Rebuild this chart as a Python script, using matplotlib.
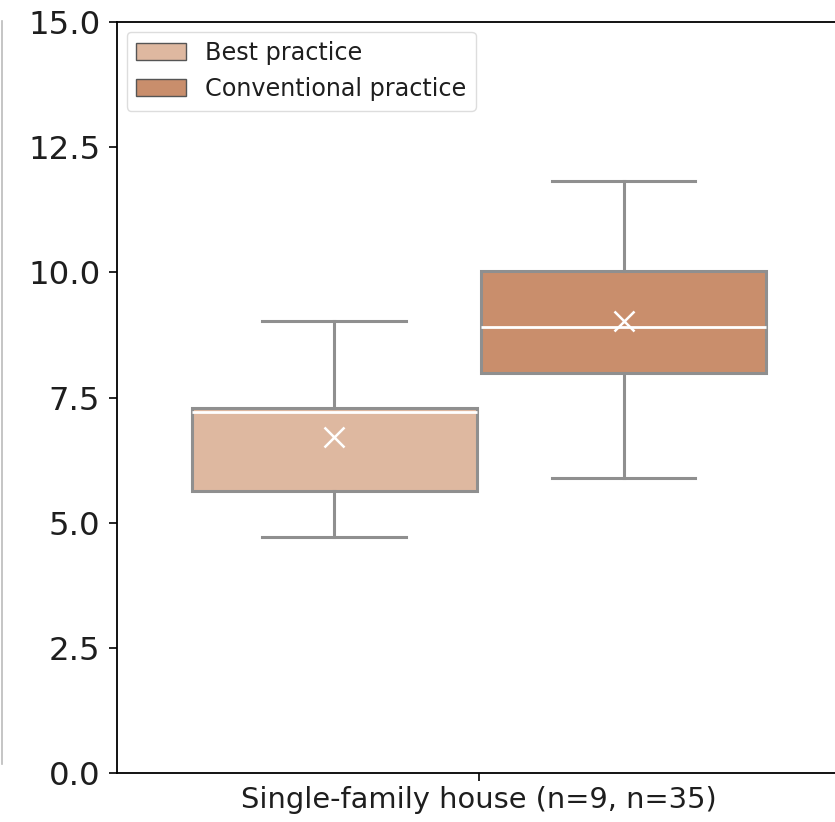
import matplotlib
matplotlib.use("Agg")
import matplotlib.pyplot as plt
from matplotlib.patches import Patch
from matplotlib.lines import Line2D

# box statistics
groups = ["Best practice", "Conventional practice"]
whislo = [4.72, 5.89]
q1 = [5.63, 7.99]
med = [7.21, 8.90]
q3 = [7.29, 10.03]
whishi = [9.02, 11.82]
means = [6.71, 9.03]
colors = ["#deb8a0", "#c98e6c"]
category = "Single-family house (n=9, n=35)"
yticks = [0.0, 2.5, 5.0, 7.5, 10.0, 12.5, 15.0]

edge = "#8f8f8f"

fig = plt.figure(figsize=(8.35, 8.22), dpi=100)
ax = fig.add_axes([0.1401, 0.0596, 0.867, 0.9136])

stats = []
for i in range(len(groups)):
    stats.append({"whislo": whislo[i], "q1": q1[i], "med": med[i], "q3": q3[i],
                  "whishi": whishi[i], "mean": means[i], "fliers": [], "label": groups[i]})

bp = ax.bxp(stats, positions=[-0.2, 0.2], widths=0.394, capwidths=0.198,
            patch_artist=True, showmeans=True, showfliers=False,
            boxprops=dict(edgecolor=edge, linewidth=2.2),
            whiskerprops=dict(color=edge, linewidth=2.2),
            capprops=dict(color=edge, linewidth=2.2),
            medianprops=dict(color="white", linewidth=2),
            meanprops=dict(marker="x", markeredgecolor="white", markersize=14, markeredgewidth=1.8))
for patch, c in zip(bp["boxes"], colors):
    patch.set_facecolor(c)

ax.set_xlim(-0.5, 0.5)
ax.set_ylim(0, 15)
ax.set_yticks(yticks)
ax.set_yticklabels([f"{t:.1f}" for t in yticks])
ax.set_xticks([0])
ax.set_xticklabels([category])
ax.tick_params(axis="y", labelsize=23.3, length=6, width=1.2, pad=6, labelcolor="#1e1e1e")
ax.tick_params(axis="x", labelsize=20.8, length=6, width=1.2, labelcolor="#1e1e1e")
for s in ax.spines.values():
    s.set_linewidth(1.3)

handles = [Patch(facecolor=c, edgecolor="#555555", label=g) for g, c in zip(groups, colors)]
leg = ax.legend(handles=handles, loc="upper left", fontsize=17.2, handlelength=2.1,
                handletextpad=0.8, borderaxespad=0.4, framealpha=1, edgecolor="#dddddd")
for t in leg.get_texts():
    t.set_color("#1e1e1e")

# edge of the neighbouring panel visible at the left border
fig.add_artist(Line2D([0.002, 0.002], [0.07, 0.975], color="#bbbbbb", linewidth=1.2))

fig.savefig("out.png", dpi=100)
